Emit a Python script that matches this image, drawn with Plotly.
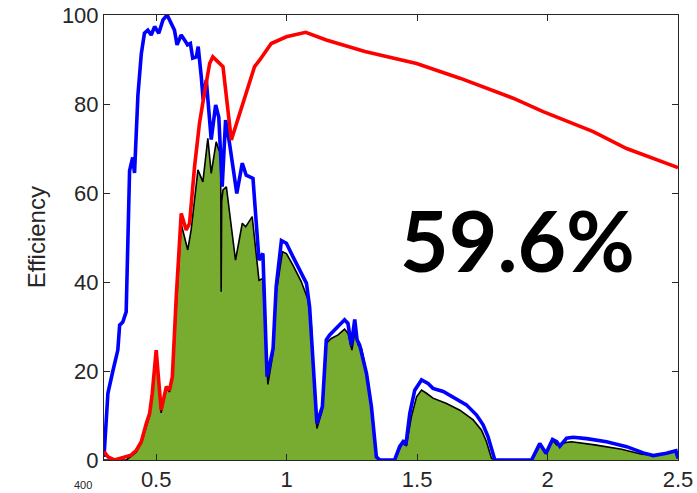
import plotly.graph_objects as go

# ---- data ----
x_blue = [0.300,0.315,0.334,0.353,0.360,0.372,0.385,0.398,0.410,0.417,0.430,0.443,0.455,0.468,0.481,0.494,0.510,0.526,0.542,0.558,0.570,0.580,0.596,0.613,0.620,0.631,0.640,0.654,0.661,0.673,0.680,0.692,0.711,0.728,0.740,0.753,0.766,0.781,0.809,0.830,0.845,0.871,0.894,0.909,0.925,0.948,0.960,0.980,0.999,1.024,1.050,1.076,1.088,1.101,1.116,1.137,1.152,1.165,1.184,1.203,1.222,1.235,1.248,1.261,1.270,1.280,1.306,1.325,1.344,1.357,1.414,1.433,1.446,1.457,1.472,1.491,1.517,1.542,1.561,1.600,1.638,1.689,1.728,1.753,1.772,1.785,1.798,1.939,1.958,1.970,1.994,2.019,2.035,2.047,2.073,2.098,2.150,2.226,2.303,2.367,2.405,2.456,2.492,2.500]
y_blue = [0.7,15,20,24.7,30.3,31,33.3,65,68,64.5,82,91.3,95.9,96.6,95.5,97.4,95.9,98.9,100,97.8,96.6,93.3,95.5,94,93.3,93.6,90.3,90.6,92.9,86,81,85.4,72,79.8,77,61.4,76.4,71.2,59.9,66.7,64,63.3,44.9,46.4,18.7,25,39,49.3,48.7,45.7,42.7,39.7,34.4,22.5,8.2,12,27,28.1,29.2,30.3,31.5,30.7,25.8,31.6,27,25.8,19.5,12,0.7,0,0,3,4.1,3.4,10.5,15.7,18,17.2,16.1,15.4,14.2,12.4,10.1,7.9,5.2,2.2,0,0,2.2,3.7,1.5,4.6,4.1,3.1,4.9,5.1,4.8,4.1,3.0,1.6,1.0,1.5,2.1,0.4]

x_red = [0.300,0.315,0.340,0.372,0.404,0.424,0.443,0.462,0.475,0.485,0.500,0.519,0.539,0.551,0.562,0.577,0.596,0.615,0.628,0.647,0.666,0.685,0.705,0.717,0.756,0.788,0.832,0.877,0.897,0.941,0.999,1.073,1.152,1.300,1.498,1.664,1.868,1.983,2.175,2.303,2.500]
y_red = [1.9,0.7,0,0.5,1.1,2.2,4.1,8.2,10.5,15,24.7,11.2,16.5,15.7,18.7,36.7,55.4,51.7,53.2,65.9,75.7,82.5,89.1,90.6,88.4,71.9,80.2,88.4,89.9,93.6,95.1,96.1,94.4,91.8,89.1,85.8,81.3,78.3,73.8,70.0,65.7]

x_green = [0.300,0.385,0.404,0.424,0.443,0.462,0.475,0.485,0.500,0.519,0.539,0.551,0.562,0.577,0.596,0.621,0.634,0.660,0.679,0.698,0.711,0.730,0.740,0.747,0.749,0.751,0.756,0.769,0.804,0.830,0.843,0.868,0.894,0.909,0.928,0.948,0.960,0.984,0.999,1.024,1.056,1.082,1.095,1.107,1.116,1.137,1.152,1.171,1.197,1.222,1.235,1.250,1.263,1.274,1.287,1.312,1.331,1.344,1.357,1.414,1.433,1.449,1.459,1.478,1.498,1.517,1.536,1.561,1.613,1.664,1.715,1.747,1.766,1.785,1.798,1.939,1.958,1.973,1.996,2.018,2.035,2.066,2.092,2.181,2.284,2.361,2.412,2.488,2.500]
y_green = [0,0,0.8,1.8,3.8,7.8,10,14.4,24,10.6,16.2,15.3,18.2,34.5,53,47.2,51.7,65.2,62.5,72.3,64.4,71.5,69.7,69,37.8,58,60.7,61.4,44.9,53.2,52.4,54.7,40.4,40.8,17,24,37.5,46.8,46.4,43.8,40.1,36,30,15,7.1,11.2,26.2,27.3,28.1,29.4,28.5,24.7,29.2,25.8,25.1,18,9,0.6,0,0,2.6,4.5,3.1,9.7,14.2,15.7,15,13.9,12.7,11.2,9,6.7,4.1,0.4,0,0,1.9,3.6,1.3,4.5,3.4,3.9,4.1,3.4,2.4,1.3,1.1,1.9,0.4]

x_ticks = [0.5, 1.0, 1.5, 2.0, 2.5]
x_tick_labels = ["0.5", "1", "1.5", "2", "2.5"]
y_ticks = [0, 20, 40, 60, 80, 100]
y_tick_labels = ["0", "20", "40", "60", "80", "100"]
big_label = "59.6%"

AX = "#262626"
fig = go.Figure()
fig.add_trace(go.Scatter(x=x_green, y=y_green, mode="lines", fill="tozeroy",
                         fillcolor="#77AC30", line=dict(color="black", width=1.6),
                         showlegend=False, hoverinfo="skip"))
fig.add_trace(go.Scatter(x=x_blue, y=y_blue, mode="lines",
                         line=dict(color="#0000FF", width=3.6), showlegend=False))
fig.add_trace(go.Scatter(x=x_red, y=y_red, mode="lines",
                         line=dict(color="#FF0000", width=3.6), showlegend=False))

fig.add_annotation(x=1.885, y=49.5, xref="x", yref="y", text=f"<b>{big_label}</b>",
                   showarrow=False, font=dict(family="Lato", size=84, color="black"),
                   xanchor="center", yanchor="middle")
fig.add_annotation(x=-0.117, y=0.50, xref="paper", yref="paper", text="Efficiency",
                   textangle=-90, showarrow=False,
                   font=dict(family="Liberation Sans", size=24, color=AX),
                   xanchor="center", yanchor="middle")
fig.add_annotation(x=-0.036, y=-0.0742, xref="paper", yref="paper", text="400",
                   showarrow=False, font=dict(family="Liberation Sans", size=11, color=AX),
                   xanchor="center", yanchor="bottom")

axis_common = dict(showline=True, linecolor=AX, linewidth=1, mirror="ticks",
                   ticks="inside", ticklen=6, tickcolor=AX, showgrid=False,
                   zeroline=False, automargin=False,
                   tickfont=dict(family="Liberation Sans", size=22, color=AX))
fig.update_xaxes(range=[0.3, 2.5], tickvals=x_ticks, ticktext=x_tick_labels, **axis_common)
fig.update_yaxes(range=[0, 100], tickvals=y_ticks, ticktext=y_tick_labels, **axis_common)

fig.update_layout(width=697, height=493, margin=dict(l=104, r=19, t=15, b=33),
                  plot_bgcolor="white", paper_bgcolor="white")
fig.write_html("out.html")
